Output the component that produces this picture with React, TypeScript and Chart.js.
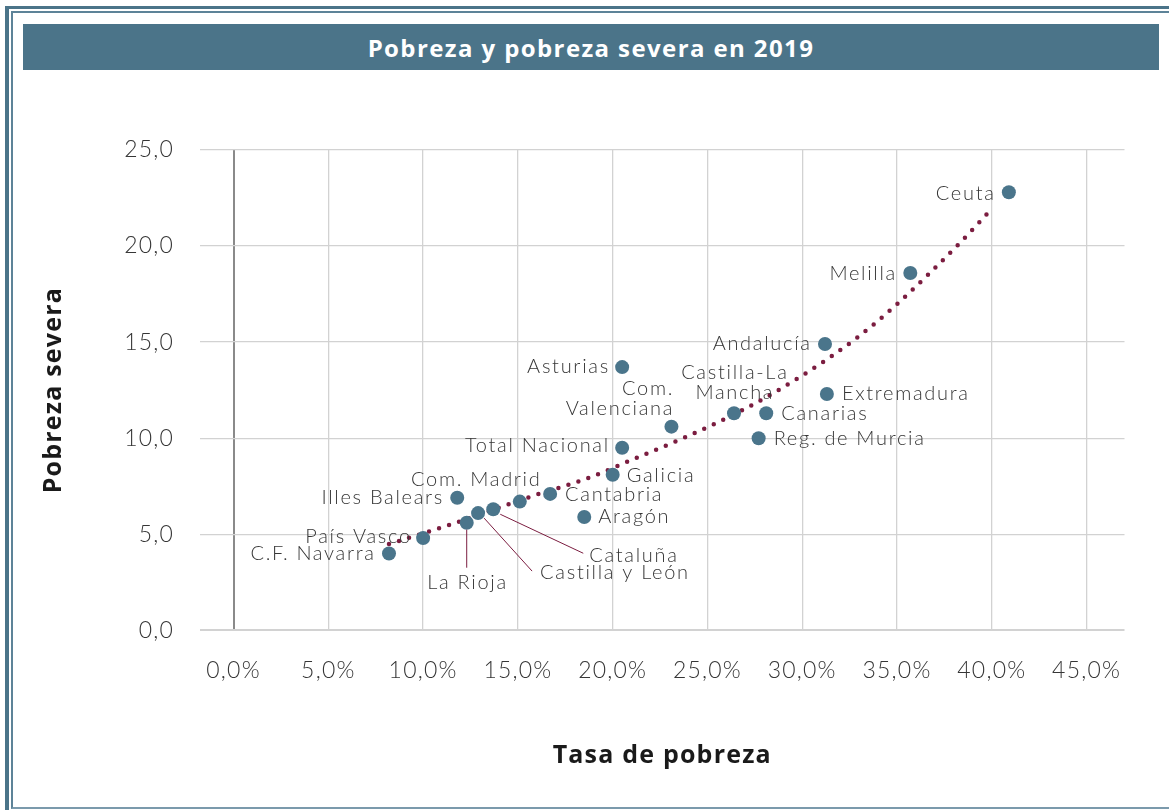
import React, { useEffect, useRef } from 'react';
import { Chart, registerables } from 'chart.js';

Chart.register(...registerables);

// ---- data ----
const regions = [
  'C.F. Navarra', 'País Vasco', 'La Rioja', 'Castilla y León', 'Cataluña',
  'Illes Balears', 'Com. Madrid', 'Cantabria', 'Aragón', 'Galicia',
  'Total Nacional', 'Asturias', 'Com. Valenciana', 'Castilla-La Mancha',
  'Reg. de Murcia', 'Canarias', 'Andalucía', 'Extremadura', 'Melilla', 'Ceuta',
];
const tasaPobreza = [8.2, 10.0, 12.3, 12.9, 13.7, 11.8, 15.1, 16.7, 18.5, 20.0, 20.5, 20.5, 23.1, 26.4, 27.7, 28.1, 31.2, 31.3, 35.7, 40.9];
const pobrezaSevera = [4.0, 4.8, 5.6, 6.1, 6.3, 6.9, 6.7, 7.1, 5.9, 8.1, 9.5, 13.7, 10.6, 11.3, 10.0, 11.3, 14.9, 12.3, 18.6, 22.8];

// trend line
const trendX = [8.2, 11.5, 15.8, 18.5, 21.2, 23.9, 27.0, 29.9, 32.8, 35.0, 38.3, 40.0];
const trendY = [4.49, 5.52, 7.0, 7.85, 8.95, 10.08, 11.54, 13.2, 15.16, 16.98, 20.15, 21.94];

const xTickValues = [0, 5, 10, 15, 20, 25, 30, 35, 40, 45];
const yTickValues = [0, 5, 10, 15, 20, 25];

const titleText = 'Pobreza y pobreza severa en 2019';
const xTitle = 'Tasa de pobreza';
const yTitle = 'Pobreza severa';

// ---- label placement (relative to each point) ----
type Placement = {
  align: CanvasTextAlign;
  dx: number;
  dy: number;
  lines?: string[];
  lineGap?: number;
  leader?: [number, number, number, number];
};
const placements: Record<string, Placement> = {
  'C.F. Navarra': { align: 'right', dx: -15, dy: 0 },
  'País Vasco': { align: 'right', dx: -13, dy: -2 },
  'La Rioja': { align: 'center', dx: 0, dy: 60, leader: [0, 7, 0, 45] },
  'Castilla y León': { align: 'left', dx: 62, dy: 59, leader: [6, 5, 54, 58] },
  'Cataluña': { align: 'left', dx: 96, dy: 46, leader: [7, 5, 90, 44] },
  'Illes Balears': { align: 'right', dx: -15, dy: 0 },
  'Com. Madrid': { align: 'right', dx: 20, dy: -22 },
  'Cantabria': { align: 'left', dx: 15, dy: 1 },
  'Aragón': { align: 'left', dx: 14, dy: 0 },
  'Galicia': { align: 'left', dx: 14, dy: 1 },
  'Total Nacional': { align: 'right', dx: -14, dy: -2 },
  'Asturias': { align: 'right', dx: -14, dy: -1 },
  'Com. Valenciana': { align: 'right', dx: 1, dy: -38, lines: ['Com.', 'Valenciana'], lineGap: 20 },
  'Castilla-La Mancha': { align: 'center', dx: 0, dy: -41, lines: ['Castilla-La', 'Mancha'], lineGap: 20 },
  'Reg. de Murcia': { align: 'left', dx: 15, dy: 0 },
  'Canarias': { align: 'left', dx: 15, dy: 0 },
  'Andalucía': { align: 'right', dx: -15, dy: 0 },
  'Extremadura': { align: 'left', dx: 15, dy: 0 },
  'Melilla': { align: 'right', dx: -15, dy: 1 },
  'Ceuta': { align: 'right', dx: -15, dy: 1 },
};

const BLUE = '#4b7489';
const DOT = '#4a758b';
const MAROON = '#7b1d40';
const TEXT = '#363636';
const LIGHT_FONT = "'Lato', 'Open Sans', sans-serif";
const BOLD_FONT = "'Open Sans', 'Lato', sans-serif";

const fmtComma = (v: number, d: number) => v.toFixed(d).replace('.', ',');

const spacingPlugin = {
  id: 'letterSpacing',
  beforeDraw(chart: any) {
    (chart.ctx as any).letterSpacing = '1.2px';
  },
};

const pointLabelsPlugin = {
  id: 'pointLabels',
  afterDatasetsDraw(chart: any) {
    const meta = chart.getDatasetMeta(1);
    const ctx = chart.ctx as CanvasRenderingContext2D;
    ctx.save();
    ctx.font = `300 20px ${LIGHT_FONT}`;
    (ctx as any).letterSpacing = '1.7px';
    ctx.fillStyle = TEXT;
    ctx.textBaseline = 'middle';
    meta.data.forEach((el: any, i: number) => {
      const name = regions[i];
      const p = placements[name];
      if (!p) return;
      const x = el.x;
      const y = el.y;
      if (p.leader) {
        ctx.save();
        ctx.strokeStyle = MAROON;
        ctx.lineWidth = 1;
        ctx.beginPath();
        ctx.moveTo(x + p.leader[0], y + p.leader[1]);
        ctx.lineTo(x + p.leader[2], y + p.leader[3]);
        ctx.stroke();
        ctx.restore();
      }
      ctx.textAlign = p.align;
      const shift = p.align === 'right' ? 1.7 : p.align === 'center' ? 0.85 : 0;
      const lines = p.lines || [name];
      lines.forEach((line, k) => {
        ctx.fillText(line, x + p.dx + shift, y + p.dy + k * (p.lineGap || 20));
      });
    });
    ctx.restore();
  },
};

export default function App() {
  const canvasRef = useRef<HTMLCanvasElement | null>(null);

  useEffect(() => {
    if (!canvasRef.current) return;
    const chart = new Chart(canvasRef.current, {
      type: 'scatter',
      data: {
        datasets: [
          {
            label: 'Tendencia',
            data: trendX.map((x, i) => ({ x, y: trendY[i] })),
            showLine: true,
            borderColor: MAROON,
            borderWidth: 4.5,
            borderDash: [0, 10.5],
            borderCapStyle: 'round',
            pointRadius: 0,
            tension: 0.4,
            cubicInterpolationMode: 'monotone',
            fill: false,
            order: 2,
          } as any,
          {
            label: 'Regiones',
            data: tasaPobreza.map((x, i) => ({ x, y: pobrezaSevera[i] })),
            backgroundColor: DOT,
            borderColor: DOT,
            pointRadius: 7,
            pointHoverRadius: 7,
            borderWidth: 0,
            order: 1,
          },
        ],
      },
      options: {
        responsive: false,
        animation: false,
        devicePixelRatio: 1,
        layout: { padding: { top: 150, right: 44.5, left: 0, bottom: 0 } },
        plugins: {
          legend: { display: false },
          tooltip: { enabled: false },
          title: { display: false },
        },
        scales: {
          x: {
            type: 'linear',
            min: -1.77,
            max: 47.0,
            afterBuildTicks: (s: any) => {
              s.ticks = xTickValues.map((v) => ({ value: v }));
            },
            afterFit: (s: any) => {
              s.height = 179.7;
            },
            ticks: {
              padding: 26,
              color: TEXT,
              font: { family: LIGHT_FONT, size: 23, weight: '300' as any },
              callback: (v: any) => fmtComma(Number(v), 1) + '%',
            },
            grid: {
              drawTicks: false,
              color: (c: any) => (c.tick && c.tick.value === 0 ? '#8a8a8a' : '#d2d2d2'),
              lineWidth: (c: any) => (c.tick && c.tick.value === 0 ? 2 : 1.3),
            },
            border: { display: false },
            title: {
              display: true,
              text: xTitle,
              color: '#1a1a1a',
              font: { family: BOLD_FONT, size: 25, weight: 'bold' },
              padding: { top: 0, bottom: 39 },
            },
          },
          y: {
            type: 'linear',
            min: 0,
            max: 25,
            afterBuildTicks: (s: any) => {
              s.ticks = yTickValues.map((v) => ({ value: v }));
            },
            afterFit: (s: any) => {
              s.width = 200;
            },
            ticks: {
              padding: 26,
              color: TEXT,
              font: { family: LIGHT_FONT, size: 23, weight: '300' as any },
              callback: (v: any) => fmtComma(Number(v), 1),
            },
            grid: {
              drawTicks: false,
              color: '#d2d2d2',
              lineWidth: (c: any) => (c.tick && c.tick.value === 0 ? 2 : 1.3),
            },
            border: { display: false },
            title: {
              display: true,
              text: yTitle,
              color: '#1a1a1a',
              font: { family: BOLD_FONT, size: 25, weight: 'bold' },
              padding: { top: 39, bottom: 0 },
            },
          },
        },
      },
      plugins: [spacingPlugin, pointLabelsPlugin],
    });
    return () => chart.destroy();
  }, []);

  return (
    <div style={{ position: 'absolute', left: 0, top: 0, width: 1169, height: 810, overflow: 'hidden', background: '#fff' }}>
      <div
        style={{
          position: 'absolute', left: 5, top: 6, width: 1300, height: 900,
          borderLeft: `4px solid ${BLUE}`, borderTop: `3px solid ${BLUE}`, boxSizing: 'border-box',
        }}
      />
      <div
        style={{
          position: 'absolute', left: 11, top: 11, width: 1300, height: 798,
          borderLeft: '2px solid #5d8398', borderTop: '2px solid #5d8398', borderBottom: '2px solid #7b9aac',
          boxSizing: 'border-box',
        }}
      />
      <div
        style={{
          position: 'absolute', left: 23, top: 24, width: 1136, height: 46, background: BLUE,
          color: '#fff', fontFamily: BOLD_FONT, fontWeight: 700, fontSize: 24, letterSpacing: '1.4px',
          display: 'flex', alignItems: 'center', justifyContent: 'center',
        }}
      >
        {titleText}
      </div>
      <canvas
        ref={canvasRef}
        width={1169}
        height={810}
        style={{ position: 'absolute', left: 0, top: 0, width: 1169, height: 810 }}
      />
    </div>
  );
}
